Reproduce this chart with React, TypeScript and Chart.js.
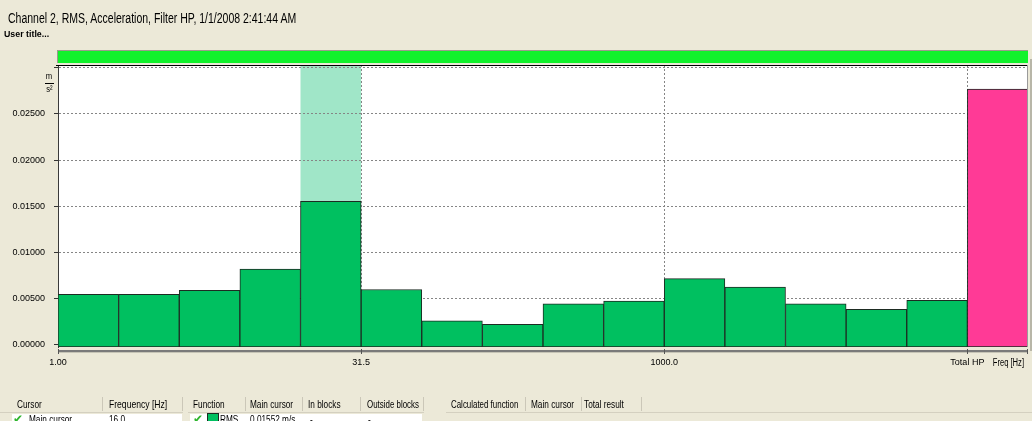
import React, { useEffect, useRef } from 'react';
import { Chart, registerables } from 'chart.js';

Chart.register(...registerables);

// ---------------- data ----------------
const bandLabels = ['1.00', '2.00', '4.00', '8.00', '16.0', '31.5', '63.0', '125', '250', '500', '1000.0', '2000', '4000', '8000', '16000', 'Total HP'];
const rmsValues = [0.00544, 0.00544, 0.00588, 0.00819, 0.01552, 0.00597, 0.00258, 0.0022, 0.00442, 0.0047, 0.00714, 0.00624, 0.00442, 0.00381, 0.0048];
const totalHpValue = 0.02771;
const cursorBandIndex = 4; // 16.0 Hz band (main cursor)
const yTickValues = [0, 0.005, 0.01, 0.015, 0.02, 0.025, 0.03];
const xTickBandIndices = [0, 5, 10, 15];
const cursorFrequency = '16.0';
const cursorRms = '0.01552 m/s';

// ---------------- style ----------------
const SANS = "'Liberation Sans', Arial, sans-serif";
const BG = '#ECE9D8';
const GREEN = '#00C060';
const PINK = '#FF3A96';
const HILITE = '#A0E6C8';
const Y_MIN = -0.00027;
const Y_MAX = 0.03031;

const decor = {
  id: 'decor',
  beforeDraw(chart: any) {
    const { ctx, chartArea: a, scales } = chart;
    const x = scales.x;
    ctx.save();
    ctx.fillStyle = '#ffffff';
    ctx.fillRect(a.left, a.top, a.right - a.left, a.bottom - a.top);
    const x0 = x.getPixelForValue(cursorBandIndex);
    const x1 = x.getPixelForValue(cursorBandIndex + 1);
    ctx.fillStyle = HILITE;
    ctx.fillRect(x0, a.top, x1 - x0, a.bottom - a.top);
    ctx.restore();
  },
  afterDraw(chart: any) {
    const { ctx, chartArea: a, scales } = chart;
    const x = scales.x;
    ctx.save();
    // status bar on top
    ctx.fillStyle = '#9c9a8c';
    ctx.fillRect(a.left - 1, a.top - 15, a.right - a.left + 1, 1);
    ctx.fillRect(a.left - 1, a.top - 15, 1, 13);
    ctx.fillStyle = '#12F22C';
    ctx.fillRect(a.left, a.top - 14, a.right - a.left, 12);
    // plot frame
    ctx.fillStyle = '#000000';
    ctx.fillRect(a.left - 2, a.top, a.right - a.left + 2, 1);
    ctx.fillStyle = '#9a9a9a';
    ctx.fillRect(a.right - 1, a.top, 1, a.bottom - a.top);
    ctx.fillStyle = '#b8b6a8';
    ctx.fillRect(1030, a.top - 6, 2, a.bottom - a.top + 10);
    // x axis line
    ctx.fillStyle = '#7a7a7a';
    ctx.fillRect(a.left, a.bottom + 3, a.right - a.left, 2);
    ctx.fillStyle = '#c6c4b6';
    ctx.fillRect(a.left, a.bottom + 5, a.right - a.left, 1);
    ctx.fillStyle = '#555555';
    for (const v of xTickBandIndices) {
      const px = Math.round(x.getPixelForValue(v));
      ctx.fillRect(px, a.bottom + 2, 1, 5);
    }
    ctx.fillRect(Math.round(a.right) - 1, a.bottom + 2, 1, 5);
    // axis title (condensed)
    ctx.fillStyle = '#000000';
    ctx.textBaseline = 'middle';
    ctx.save();
    ctx.translate(a.right - 4, a.bottom + 16);
    ctx.scale(0.76, 1);
    ctx.font = `10px ${SANS}`;
    ctx.textAlign = 'right';
    ctx.fillText('Freq [Hz]', 0, 0);
    ctx.restore();
    // unit fraction m / s²
    ctx.save();
    ctx.translate(49, 0);
    ctx.scale(0.85, 1);
    ctx.font = `9px ${SANS}`;
    ctx.textAlign = 'center';
    ctx.fillText('m', 0, 77);
    ctx.fillText('s\u00B2', 0.5, 90);
    ctx.restore();
    ctx.fillRect(45, 83, 9, 1);
    ctx.restore();
  },
};

type TxtProps = { x: number; y: number; size?: number; sx?: number; bold?: boolean; children: React.ReactNode };
function Txt({ x, y, size = 11, sx = 0.75, bold = false, children }: TxtProps) {
  return (
    <div
      style={{
        position: 'absolute',
        left: x,
        top: y,
        fontSize: size,
        lineHeight: `${size}px`,
        fontWeight: bold ? 'bold' : 'normal',
        whiteSpace: 'nowrap',
        color: '#000',
        transform: `scaleX(${sx})`,
        transformOrigin: 'left top',
      }}
    >
      {children}
    </div>
  );
}

export default function App() {
  const ref = useRef<HTMLCanvasElement>(null);

  useEffect(() => {
    const canvas = ref.current;
    if (!canvas) return;
    const values = [...rmsValues, totalHpValue];
    const points = values.map((v, i) => ({ x: i + 0.5, y: v }));
    const colors = values.map((_, i) => (i === values.length - 1 ? PINK : GREEN));
    const tickFont = { family: SANS, size: 9 };

    const chart = new Chart(canvas, {
      type: 'bar',
      data: {
        datasets: [
          {
            data: points as any,
            backgroundColor: colors,
            borderColor: '#1d2b22',
            borderWidth: 1,
            borderSkipped: false,
            barPercentage: 1,
            categoryPercentage: 1,
            base: Y_MIN,
          } as any,
        ],
      },
      options: {
        responsive: false,
        animation: false,
        layout: { padding: { left: 0, right: 4, top: 65, bottom: 50 } },
        plugins: {
          legend: { display: false },
          tooltip: { enabled: false },
          title: { display: false },
        },
        scales: {
          x: {
            type: 'linear',
            offset: false,
            min: 0,
            max: bandLabels.length,
            afterBuildTicks: (s: any) => {
              s.ticks = xTickBandIndices.map((v) => ({ value: v }));
            },
            afterFit: (s: any) => {
              s.height = 24;
            },
            ticks: {
              callback: (v: any) => bandLabels[Number(v)] ?? '',
              font: tickFont,
              color: '#000',
              padding: 10,
              maxRotation: 0,
              autoSkip: false,
            },
            grid: { offset: false, color: '#858585', lineWidth: 1, drawTicks: false },
            border: { display: false, dash: [2, 2] },
          },
          y: {
            min: Y_MIN,
            max: Y_MAX,
            afterBuildTicks: (s: any) => {
              s.ticks = yTickValues.map((v) => ({ value: v }));
            },
            afterFit: (s: any) => {
              s.width = 58;
            },
            ticks: {
              callback: (v: any) => (Number(v) > 0.0299 ? '' : Number(v).toFixed(5)),
              font: tickFont,
              color: '#000',
              padding: 9,
            },
            grid: { color: '#858585', lineWidth: 1, drawTicks: true, tickLength: 4, tickColor: '#333' },
            border: { display: true, color: '#3a3a3a', width: 1, dash: [2, 2] },
          },
        },
      } as any,
      plugins: [decor],
    });
    return () => chart.destroy();
  }, []);

  const sep = (x: number): React.CSSProperties => ({
    position: 'absolute',
    left: x,
    top: 397,
    width: 1,
    height: 14,
    background: '#CBC7B8',
  });
  const check: React.CSSProperties = {
    position: 'absolute',
    top: 413,
    fontSize: 12,
    lineHeight: '12px',
    color: '#2DB52D',
    fontFamily: "'DejaVu Sans', sans-serif",
  };

  return (
    <div
      style={{
        position: 'fixed',
        left: 0,
        top: 0,
        width: 1032,
        height: 421,
        background: BG,
        overflow: 'hidden',
        fontFamily: SANS,
      }}
    >
      <canvas ref={ref} width={1032} height={421} style={{ position: 'absolute', left: 0, top: 0 }} />
      <Txt x={8} y={11} size={14} sx={0.75}>
        Channel 2, RMS, Acceleration, Filter HP, 1/1/2008 2:41:44 AM
      </Txt>
      <Txt x={4} y={30} size={9} sx={0.98} bold>
        User title...
      </Txt>

      {/* table header lines */}
      <div style={{ position: 'absolute', left: 0, top: 412, width: 183, height: 1, background: '#D4D0C0' }} />
      <div style={{ position: 'absolute', left: 188, top: 412, width: 236, height: 1, background: '#D4D0C0' }} />
      <div style={{ position: 'absolute', left: 446, top: 412, width: 586, height: 1, background: '#D4D0C0' }} />
      <div style={{ position: 'absolute', left: 12, top: 414, width: 170, height: 10, background: '#fff' }} />
      <div style={{ position: 'absolute', left: 190, top: 414, width: 232, height: 10, background: '#fff' }} />

      <Txt x={17} y={399}>Cursor</Txt>
      <div style={sep(102)} />
      <Txt x={109} y={399} sx={0.78}>Frequency [Hz]</Txt>
      <div style={sep(182)} />
      <Txt x={193} y={399}>Function</Txt>
      <div style={sep(245)} />
      <Txt x={250} y={399}>Main cursor</Txt>
      <div style={sep(302)} />
      <Txt x={308} y={399}>In blocks</Txt>
      <div style={sep(360)} />
      <Txt x={367} y={399} sx={0.72}>Outside blocks</Txt>
      <div style={sep(423)} />
      <Txt x={451} y={399} sx={0.72}>Calculated function</Txt>
      <div style={sep(525)} />
      <Txt x={531} y={399}>Main cursor</Txt>
      <div style={sep(581)} />
      <Txt x={584} y={399}>Total result</Txt>
      <div style={sep(641)} />

      <div style={{ ...check, left: 13 }}>{'\u2714'}</div>
      <Txt x={29} y={414}>Main cursor</Txt>
      <Txt x={109} y={414}>{cursorFrequency}</Txt>
      <div style={{ ...check, left: 193 }}>{'\u2714'}</div>
      <div style={{ position: 'absolute', left: 207, top: 413, width: 10, height: 10, background: GREEN, border: '1px solid #1d2b22' }} />
      <Txt x={220} y={414}>RMS</Txt>
      <Txt x={250} y={414}>{cursorRms}</Txt>
      <Txt x={310} y={414}>-</Txt>
      <Txt x={368} y={414}>-</Txt>
    </div>
  );
}
